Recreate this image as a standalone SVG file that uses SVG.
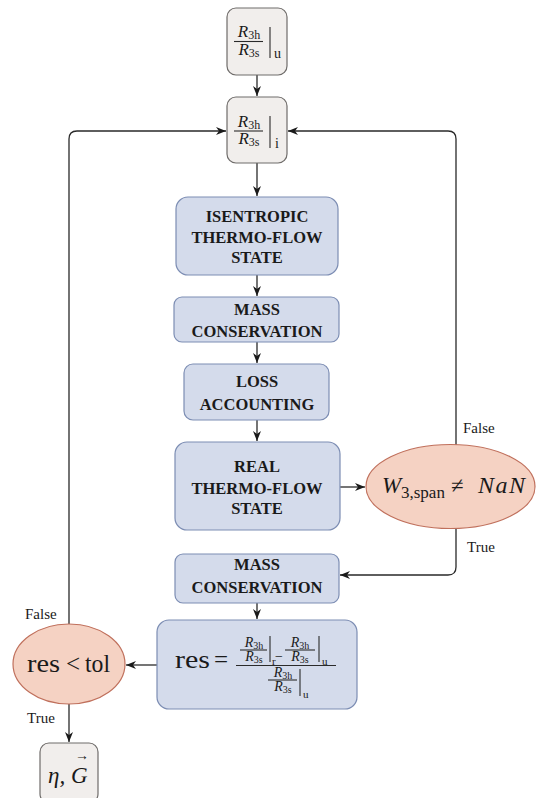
<svg xmlns="http://www.w3.org/2000/svg" width="536" height="798" viewBox="0 0 536 798">
<style>
.grey{fill:#f1eeec;stroke:#6f6c6a;stroke-width:1.2}
.blue{fill:#d4dbeb;stroke:#7c8db3;stroke-width:1.2}
.ell{fill:#f5d2c3;stroke:#c0705c;stroke-width:1.2}
text{font-family:'Liberation Serif',serif;fill:#1a1a1a}
.lbl{font-weight:bold;font-size:16.5px;text-anchor:middle}
.i{font-style:italic}
.mid{text-anchor:middle}
.edge{fill:none;stroke:#2a2a2a;stroke-width:1.3}
.bar{stroke:#2a2a2a;stroke-width:1.1}
.tl{font-size:15px}
.fr{font-size:14px;text-anchor:middle}
.fs{font-size:10px}
.br{font-size:17px;text-anchor:middle}
.bs{font-size:12px}
</style>
<defs>
<marker id="ah" markerUnits="userSpaceOnUse" markerWidth="10" markerHeight="10" viewBox="0 0 10 10" refX="10" refY="5" orient="auto">
<path d="M0,1 L10,5 L0,9 L3,5 Z" fill="#1a1a1a"/>
</marker>
</defs>

<g id="connectors">
<path class="edge" d="M257,75 V96" marker-end="url(#ah)"/>
<path class="edge" d="M257,163 V196" marker-end="url(#ah)"/>
<path class="edge" d="M257,275 V296" marker-end="url(#ah)"/>
<path class="edge" d="M257,342 V363" marker-end="url(#ah)"/>
<path class="edge" d="M257,420 V441" marker-end="url(#ah)"/>
<path class="edge" d="M340,487 H365" marker-end="url(#ah)"/>
<path class="edge" d="M456,445 V139 Q456,131 448,131 H288" marker-end="url(#ah)"/>
<path class="edge" d="M456,528 V567 Q456,575 448,575 H340" marker-end="url(#ah)"/>
<path class="edge" d="M257,603 V619" marker-end="url(#ah)"/>
<path class="edge" d="M157,665 H126" marker-end="url(#ah)"/>
<path class="edge" d="M69,624 V139 Q69,131 77,131 H226" marker-end="url(#ah)"/>
<path class="edge" d="M69,704 V742" marker-end="url(#ah)"/>
<text class="tl" x="463" y="433">False</text>
<text class="tl" x="467" y="552">True</text>
<text class="tl" x="25" y="619">False</text>
<text class="tl" x="27" y="723">True</text>
</g>

<g id="ratio-u">
<rect class="grey" x="227" y="8" width="60" height="67" rx="9"/>
<text class="br" x="249" y="37"><tspan class="i">R</tspan><tspan class="bs" dy="2">3h</tspan></text>
<line class="bar" x1="234" y1="41.5" x2="263" y2="41.5"/>
<text class="br" x="249" y="55"><tspan class="i">R</tspan><tspan class="bs" dy="2">3s</tspan></text>
<line class="bar" x1="270" y1="27" x2="270" y2="58"/>
<text x="274" y="58" font-size="14">u</text>
</g>

<g id="ratio-i">
<rect class="grey" x="227" y="97" width="60" height="66" rx="9"/>
<text class="br" x="249" y="127"><tspan class="i">R</tspan><tspan class="bs" dy="2">3h</tspan></text>
<line class="bar" x1="234" y1="131" x2="263" y2="131"/>
<text class="br" x="249" y="144"><tspan class="i">R</tspan><tspan class="bs" dy="2">3s</tspan></text>
<line class="bar" x1="270" y1="116" x2="270" y2="148"/>
<text x="275" y="148" font-size="14">i</text>
</g>

<g id="isentropic">
<rect class="blue" x="176" y="197" width="162" height="78" rx="12"/>
<text class="lbl" x="257" y="222">ISENTROPIC</text>
<text class="lbl" x="257" y="243">THERMO-FLOW</text>
<text class="lbl" x="257" y="263">STATE</text>
</g>

<g id="mass1">
<rect class="blue" x="174" y="297" width="165" height="45" rx="8"/>
<text class="lbl" x="257" y="315">MASS</text>
<text class="lbl" x="257" y="337">CONSERVATION</text>
</g>

<g id="loss">
<rect class="blue" x="184" y="364" width="145" height="56" rx="9"/>
<text class="lbl" x="257" y="387">LOSS</text>
<text class="lbl" x="257" y="410">ACCOUNTING</text>
</g>

<g id="real">
<rect class="blue" x="175" y="442" width="165" height="88" rx="12"/>
<text class="lbl" x="257" y="472">REAL</text>
<text class="lbl" x="257" y="494">THERMO-FLOW</text>
<text class="lbl" x="257" y="514">STATE</text>
</g>

<g id="nan-check">
<ellipse class="ell" cx="450.5" cy="486.5" rx="84.5" ry="42"/>
<text class="i" x="382" y="493" font-size="23">W</text>
<text x="401" y="498" font-size="17">3,span</text>
<text x="451" y="493" font-size="23">≠</text>
<text class="i" x="478" y="493" font-size="24" letter-spacing="1.5">NaN</text>
</g>

<g id="mass2">
<rect class="blue" x="175" y="554" width="164" height="49" rx="8"/>
<text class="lbl" x="257" y="570">MASS</text>
<text class="lbl" x="257" y="593">CONSERVATION</text>
</g>

<g id="residual">
<rect class="blue" x="157" y="620" width="200" height="89" rx="12"/>
<text x="175" y="668" font-size="25" textLength="35" lengthAdjust="spacingAndGlyphs">res</text>
<text x="214" y="668" font-size="25">=</text>
<text class="fr" x="254" y="647"><tspan class="i">R</tspan><tspan class="fs" dy="2">3h</tspan></text>
<line class="bar" x1="240" y1="650" x2="267" y2="650"/>
<text class="fr" x="254" y="661"><tspan class="i">R</tspan><tspan class="fs" dy="2">3s</tspan></text>
<line class="bar" x1="270" y1="636" x2="270" y2="662"/>
<text x="272" y="665" font-size="11">r</text>
<text class="mid" x="279" y="661" font-size="14">−</text>
<text class="fr" x="300" y="647"><tspan class="i">R</tspan><tspan class="fs" dy="2">3h</tspan></text>
<line class="bar" x1="285" y1="650" x2="315" y2="650"/>
<text class="fr" x="300" y="661"><tspan class="i">R</tspan><tspan class="fs" dy="2">3s</tspan></text>
<line class="bar" x1="319" y1="636" x2="319" y2="662"/>
<text x="322" y="665" font-size="11">u</text>
<line class="bar" x1="236" y1="665.5" x2="336" y2="665.5"/>
<text class="fr" x="283" y="677"><tspan class="i">R</tspan><tspan class="fs" dy="2">3h</tspan></text>
<line class="bar" x1="268" y1="680" x2="297" y2="680"/>
<text class="fr" x="283" y="691"><tspan class="i">R</tspan><tspan class="fs" dy="2">3s</tspan></text>
<line class="bar" x1="300" y1="669" x2="300" y2="696"/>
<text x="303" y="698" font-size="11">u</text>
</g>

<g id="tol-check">
<ellipse class="ell" cx="69" cy="664" rx="56" ry="40"/>
<text x="27" y="672" font-size="25" textLength="33" lengthAdjust="spacingAndGlyphs">res</text>
<text x="66" y="672" font-size="25">&lt;</text>
<text x="85" y="672" font-size="25" textLength="25" lengthAdjust="spacingAndGlyphs">tol</text>
</g>

<g id="output">
<rect class="grey" x="40" y="743" width="58" height="60" rx="9"/>
<text class="i" x="48" y="783" font-size="23">η, G</text>
<text class="mid" x="82" y="760" font-size="14">→</text>
</g>
</svg>
